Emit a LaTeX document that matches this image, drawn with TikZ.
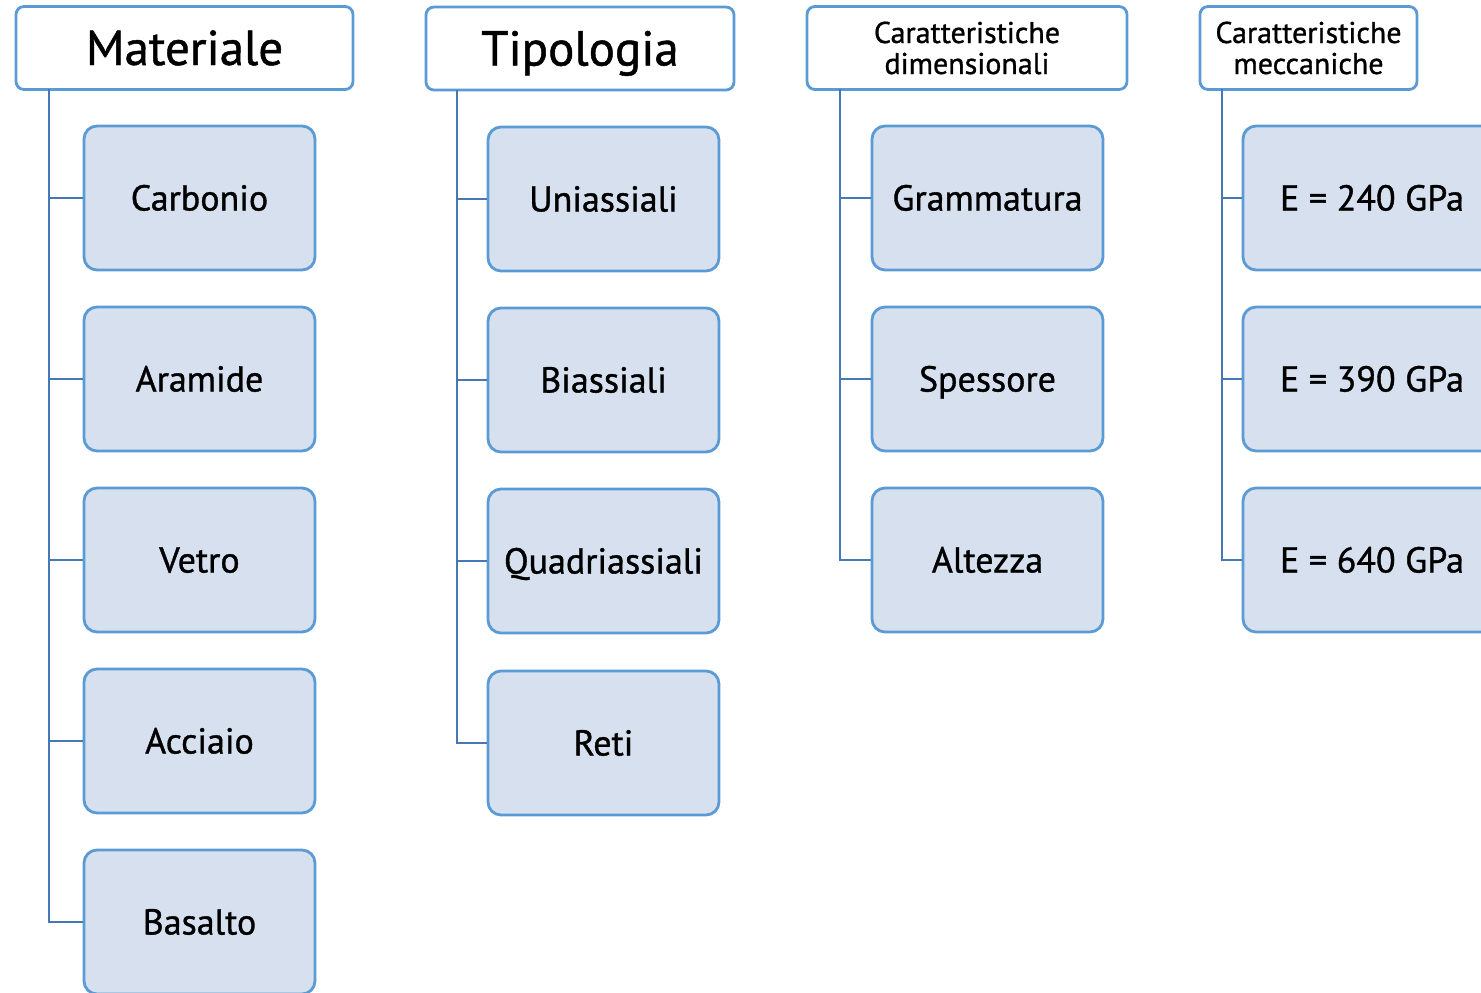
\documentclass[tikz,border=0pt]{standalone}
\usepackage{fontspec}
\setmainfont{PT Sans}[FakeBold=1.0]
\usepackage{tikz}
\usetikzlibrary{positioning}
\definecolor{boxfill}{RGB}{214,224,239}
\definecolor{boxedge}{RGB}{91,155,213}
\definecolor{trunk}{RGB}{70,120,180}

\begin{document}
\begin{tikzpicture}[x=1pt,y=-1pt,
  head/.style={rectangle,rounded corners=8pt,draw=boxedge,fill=white,line width=2.8pt,
    minimum height=83pt,align=center,inner sep=0pt},
  bighead/.style={head,font=\fontsize{49}{53}\selectfont,text height=34pt,text depth=0pt},
  smallhead/.style={head,font=\fontsize{30}{31}\selectfont},
  item/.style={rectangle,rounded corners=13pt,draw=boxedge,fill=boxfill,line width=2.8pt,
    minimum width=231pt,minimum height=144pt,font=\fontsize{36}{40}\selectfont,
    text height=25pt,text depth=0pt},
  conn/.style={trunk,line width=2.8pt}
]
\useasboundingbox (0,0) rectangle (1481,993);
\clip (0,0) rectangle (1481,993);
% headers
\node[bighead,minimum width=337pt] (mat) at (184.5,48) {Materiale};
\node[bighead,minimum width=308pt] (tip) at (580,48.5) {Tipologia};
\node[smallhead,minimum width=320pt] (dim) at (967,48) {Caratteristiche\\dimensionali};
\node[smallhead,minimum width=217pt] (mec) at (1308.5,48) {Caratteristiche\\meccaniche};
% trunk starts
\coordinate (matT) at (49,89);
\coordinate (tipT) at (457,90);
\coordinate (dimT) at (840,89);
\coordinate (mecT) at (1222,89);
% Materiale
\node[item] (car) at (199.5,198) {Carbonio};
\node[item] (ara) at (199.5,379) {Aramide};
\node[item] (vet) at (199.5,560) {Vetro};
\node[item] (acc) at (199.5,741) {Acciaio};
\node[item] (bas) at (199.5,922) {Basalto};
% Tipologia
\node[item] (uni) at (603.5,199) {Uniassiali};
\node[item] (bia) at (603.5,380) {Biassiali};
\node[item] (qua) at (603.5,561) {Quadriassiali};
\node[item] (ret) at (603.5,743) {Reti};
% Caratteristiche dimensionali
\node[item] (gra) at (987.5,198) {Grammatura};
\node[item] (spe) at (987.5,379) {Spessore};
\node[item] (alt) at (987.5,560) {Altezza};
% Caratteristiche meccaniche
\node[item,minimum width=258pt] (e240) at (1372,198) {E = 240 GPa};
\node[item,minimum width=258pt] (e390) at (1372,379) {E = 390 GPa};
\node[item,minimum width=258pt] (e640) at (1372,560) {E = 640 GPa};
% connectors
\draw[conn] (matT) |- (car.west);
\draw[conn] (matT) |- (ara.west);
\draw[conn] (matT) |- (vet.west);
\draw[conn] (matT) |- (acc.west);
\draw[conn] (matT) |- (bas.west);
\draw[conn] (tipT) |- (uni.west);
\draw[conn] (tipT) |- (bia.west);
\draw[conn] (tipT) |- (qua.west);
\draw[conn] (tipT) |- (ret.west);
\draw[conn] (dimT) |- (gra.west);
\draw[conn] (dimT) |- (spe.west);
\draw[conn] (dimT) |- (alt.west);
\draw[conn] (mecT) |- (e240.west);
\draw[conn] (mecT) |- (e390.west);
\draw[conn] (mecT) |- (e640.west);
\end{tikzpicture}
\end{document}
